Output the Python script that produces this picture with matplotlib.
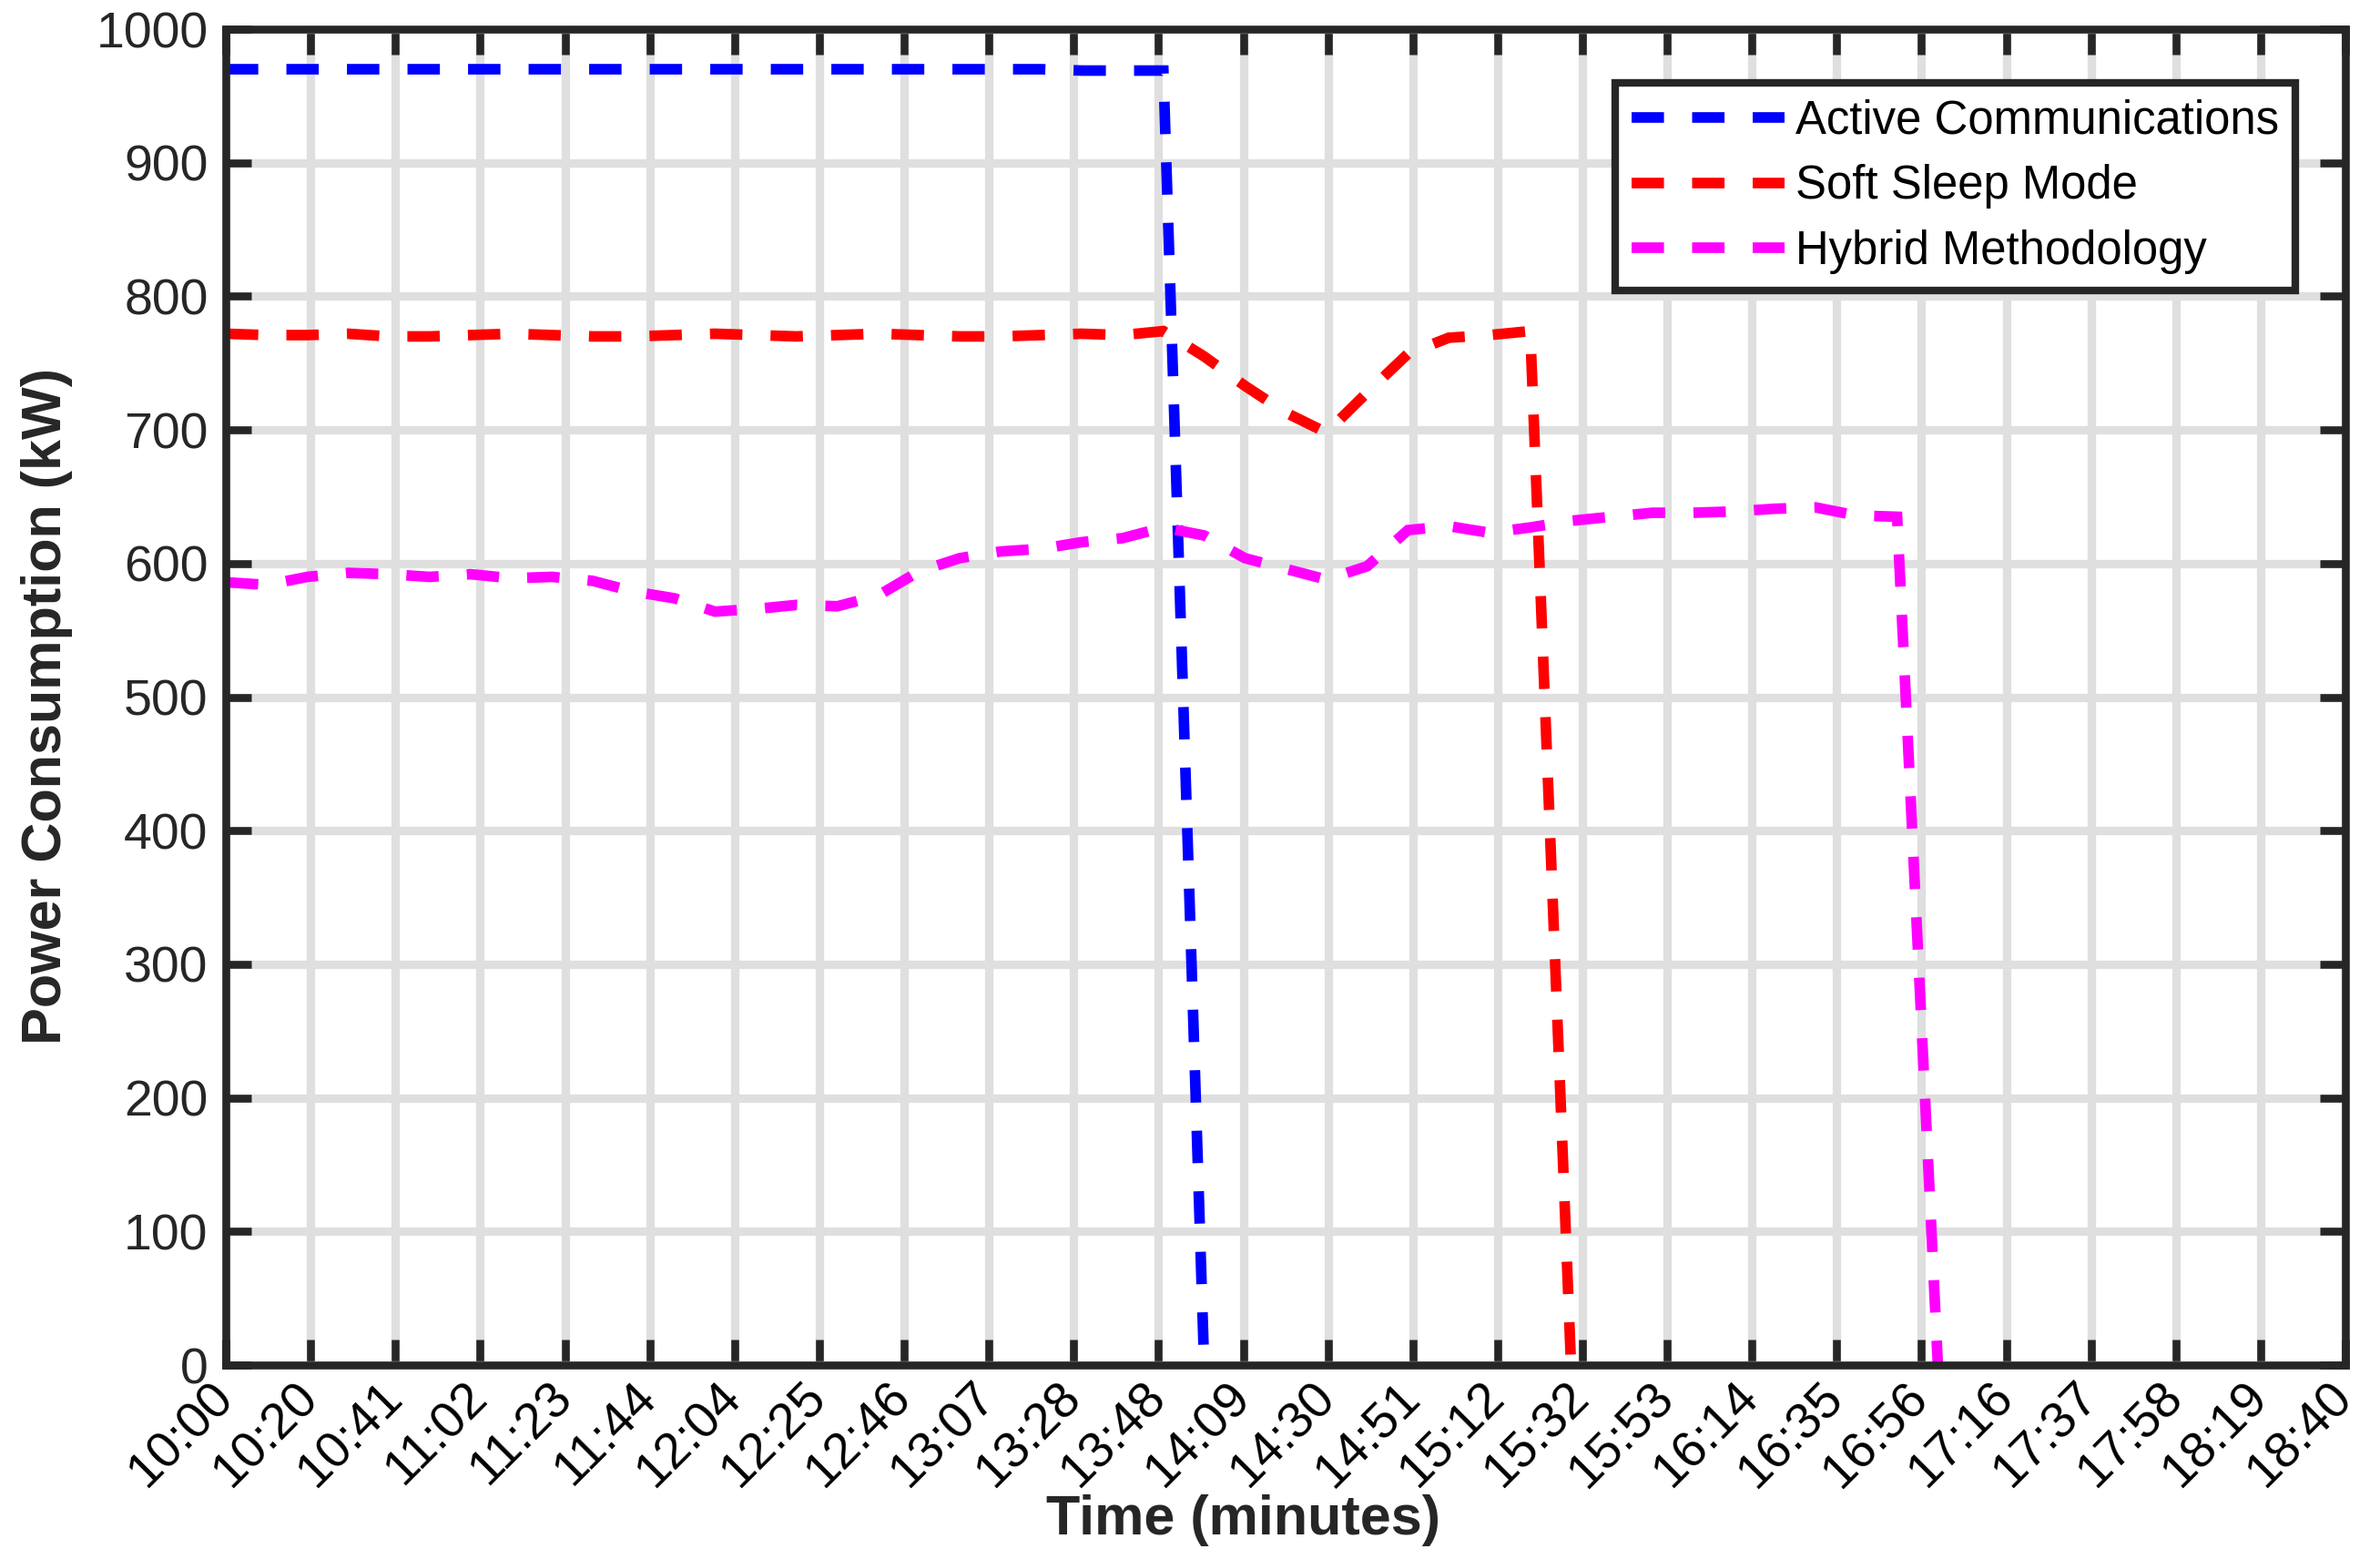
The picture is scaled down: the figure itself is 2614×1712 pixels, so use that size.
import matplotlib
matplotlib.use("Agg")
import matplotlib.pyplot as plt
import numpy as np

# ---------------- data ----------------
times = ["10:00", "10:10", "10:20", "10:30", "10:40", "10:50",
         "11:00", "11:10", "11:20", "11:30", "11:40", "11:50",
         "12:00", "12:10", "12:20", "12:30", "12:40", "12:50",
         "13:00", "13:10", "13:20", "13:30", "13:40", "13:50",
         "14:00", "14:10", "14:20", "14:30", "14:40", "14:50",
         "15:00", "15:10", "15:20", "15:30", "15:40", "15:50",
         "16:00", "16:10", "16:20", "16:30", "16:40", "16:50",
         "17:00"]

active_comm = [970, 970, 970, 970, 970, 970, 970, 970, 970, 970, 970, 970,
               970, 970, 970, 970, 970, 970, 970, 970, 970, 969, 969, 969,
               0]

soft_sleep = [772, 771, 771, 772, 770, 770, 771, 772, 771, 770, 770, 771,
              772, 771, 770, 771, 772, 771, 770, 770, 771, 772, 771, 774,
              755, 733, 713, 698, 728, 757, 769, 771, 774, 0]

hybrid = [586, 584, 590, 593, 592, 590, 592, 589, 590, 587, 579, 574,
          564, 566, 569, 568, 576, 594, 604, 609, 611, 616, 619, 627,
          621, 604, 596, 588, 598, 625, 628, 623, 627, 632, 635, 638,
          638, 639, 641, 642, 636, 635, 0]

xtick_labels = ["10:00", "10:20", "10:41", "11:02", "11:23", "11:44", "12:04",
                "12:25", "12:46", "13:07", "13:28", "13:48", "14:09", "14:30",
                "14:51", "15:12", "15:32", "15:53", "16:14", "16:35", "16:56",
                "17:16", "17:37", "17:58", "18:19", "18:40"]
yticks = [0, 100, 200, 300, 400, 500, 600, 700, 800, 900, 1000]

series_names = ["Active Communications", "Soft Sleep Mode", "Hybrid Methodology"]
series_colors = ["#0000ff", "#ff0000", "#ff00ff"]


def to_minutes(t):
    h, m = t.split(":")
    return (int(h) - 10) * 60 + int(m)


tmin = [to_minutes(t) for t in times]

# ---------------- style ----------------
plt.rcParams["font.family"] = ["Liberation Sans", "DejaVu Sans"]
axcol = "#262626"

fig = plt.figure(figsize=(13.07, 8.56), dpi=200)
ax = fig.add_axes([0.0949, 0.1244, 0.8906, 0.8569])

for vals, name, col in zip([active_comm, soft_sleep, hybrid], series_names, series_colors):
    ax.plot(tmin[:len(vals)], vals, color=col, lw=4.2, linestyle=(0, (3.05, 2.65)),
            dash_capstyle="butt", dash_joinstyle="miter", label=name, zorder=3)

x_end = to_minutes("18:40")
ax.set_xlim(0, x_end)
ax.set_ylim(0, 1000)
ax.set_xticks(np.linspace(0, x_end, len(xtick_labels)))
ax.set_xticklabels(xtick_labels, rotation=45, ha="right", va="center",
                   rotation_mode="anchor")
ax.set_yticks(yticks)
ax.set_yticklabels([str(v) for v in yticks])

ax.grid(True, color="#dfdfdf", lw=3.35)
ax.set_axisbelow(True)
ax.tick_params(direction="in", length=10, width=3.1, color=axcol,
               top=True, right=True, labelsize=20, labelcolor="black")
ax.tick_params(axis="x", pad=10)
ax.tick_params(axis="y", pad=7, labelcolor=axcol)
for s in ax.spines.values():
    s.set_linewidth(3.1)
    s.set_color(axcol)
    s.set_zorder(4)

ax.set_xlabel("Time (minutes)", fontsize=22, fontweight="bold", color=axcol)
ax.set_ylabel("Power Consumption (kW)", fontsize=22, fontweight="bold", color=axcol)
ax.xaxis.set_label_coords(0.48, -0.097)
ax.yaxis.set_label_coords(-0.072, 0.4935)

leg = ax.legend(loc="upper right", bbox_to_anchor=(0.9765, 0.96),
                bbox_transform=ax.transAxes, borderaxespad=0,
                fontsize=18.3, frameon=True, fancybox=False,
                framealpha=1, edgecolor=axcol,
                handlelength=3.3, handletextpad=0.25, borderpad=0.35,
                labelspacing=0.45)
leg.get_frame().set_linewidth(3.0)
leg.set_zorder(5)

fig.savefig("out.png", dpi=200)
